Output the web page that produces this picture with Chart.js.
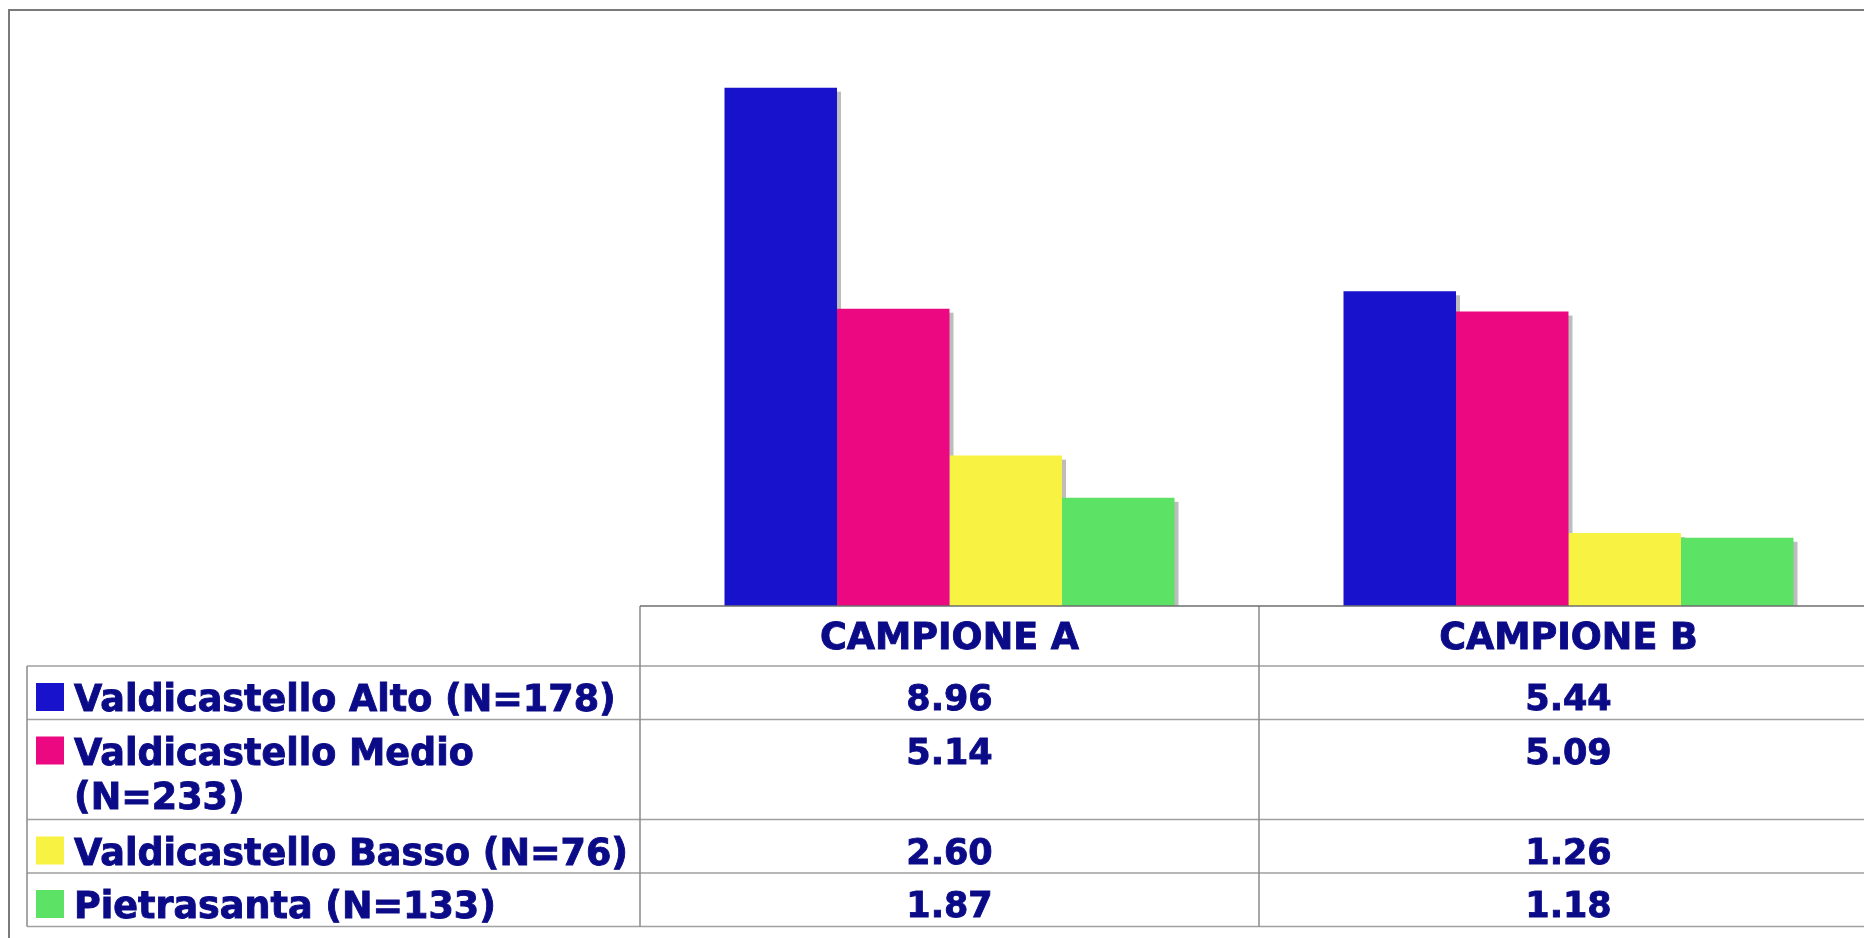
<!DOCTYPE html>
<html>
<head>
<meta charset="utf-8">
<script src="https://cdn.jsdelivr.net/npm/chart.js@4/dist/chart.umd.min.js"></script>
<style>
  html, body { margin: 0; padding: 0; background: #fff; overflow: hidden; }
  #wrap { width: 1900px; height: 938px; }
</style>
</head>
<body>
<div id="wrap"><canvas id="chart" width="1900" height="938"></canvas></div>
<script>
// data (table under the bars)
const categories = ['CAMPIONE A', 'CAMPIONE B'];
const seriesNames = [
  'Valdicastello Alto (N=178)',
  'Valdicastello Medio (N=233)',
  'Valdicastello Basso (N=76)',
  'Pietrasanta (N=133)'
];
const alto = [8.96, 5.44];
const medio = [5.14, 5.09];
const basso = [2.60, 1.26];
const pietrasanta = [1.87, 1.18];
const colors = ['#1812CC', '#EC0880', '#F8F242', '#5CE264'];

const TEXT = '#0b0b88';
const HEAD_FONT = 'bold 36.5px "DejaVu Sans", Verdana, sans-serif';
const VAL_FONT = 'bold 35px "DejaVu Sans", Verdana, sans-serif';
const LEGEND_FONT = 'bold 36.5px "DejaVu Sans", Verdana, sans-serif';

// shadow behind each bar, drawn before all bars so neighbours cover it
const barShadow = {
  id: 'barShadow',
  beforeDatasetsDraw(chart){
    const ctx = chart.ctx;
    ctx.save();
    ctx.fillStyle = '#bdbdbd';
    chart.data.datasets.forEach((ds, i) => {
      chart.getDatasetMeta(i).data.forEach(bar => {
        const p = bar.getProps(['x', 'y', 'base', 'width'], true);
        const left = p.x - p.width / 2 + 4;
        const top = p.y + 4;
        ctx.fillRect(left, top, p.width, p.base - top);
      });
    });
    ctx.restore();
  }
};

function wrapLines(ctx, text, maxW){
  const words = text.split(' ');
  const lines = [];
  let cur = '';
  for (const w of words) {
    const t = cur ? cur + ' ' + w : w;
    if (cur && ctx.measureText(t).width > maxW) { lines.push(cur); cur = w; }
    else cur = t;
  }
  if (cur) lines.push(cur);
  return lines;
}

// bold text, thickened a little to look like the heavier original face
function boldText(ctx, s, x, y){
  ctx.fillText(s, x, y);
  ctx.strokeText(s, x, y);
}

// data table under the plot, with legend keys in the first column
const dataTable = {
  id: 'dataTable',
  afterDraw(chart){
    const ctx = chart.ctx;
    const x = chart.scales.x;
    const area = chart.chartArea;
    const n = categories.length;
    const colW = (area.right - area.left) / n;
    const tableLeft = 27;
    const headTop = area.bottom;
    const headH = 60;

    ctx.save();
    // outer frame
    ctx.strokeStyle = '#7a7a7a';
    ctx.lineWidth = 2;
    ctx.strokeRect(9, 10, 3000, 3000);

    // rows
    ctx.font = LEGEND_FONT;
    const rows = [];
    let y = headTop + headH;
    chart.data.datasets.forEach(ds => {
      const lines = wrapLines(ctx, ds.label, area.left - 74 - 6);
      const h = 7 + 46.5 * lines.length;
      rows.push({ top: y, h, lines });
      y += h;
    });
    const tableBottom = y;

    // grid lines
    ctx.strokeStyle = '#a0a0a0';
    ctx.lineWidth = 1.5;
    ctx.beginPath();
    rows.forEach(r => { ctx.moveTo(tableLeft, r.top); ctx.lineTo(area.right, r.top); });
    ctx.moveTo(tableLeft, tableBottom); ctx.lineTo(area.right, tableBottom);
    ctx.stroke();
    ctx.strokeStyle = '#8a8a8a';
    ctx.beginPath();
    ctx.moveTo(tableLeft, rows[0].top); ctx.lineTo(tableLeft, tableBottom);
    for (let i = 0; i <= n; i++) {
      const cx = area.left + colW * i;
      ctx.moveTo(cx, headTop); ctx.lineTo(cx, tableBottom);
    }
    ctx.stroke();
    // axis line a bit darker
    ctx.strokeStyle = '#6e6e6e';
    ctx.beginPath();
    ctx.moveTo(area.left, headTop); ctx.lineTo(area.right, headTop);
    ctx.stroke();

    // header
    ctx.fillStyle = TEXT;
    ctx.strokeStyle = TEXT;
    ctx.lineWidth = 0.9;
    ctx.textAlign = 'center';
    ctx.textBaseline = 'alphabetic';
    ctx.font = HEAD_FONT;
    categories.forEach((c, i) => {
      boldText(ctx, c, x.getPixelForTick(i), headTop + 43);
    });

    // values and legend
    chart.data.datasets.forEach((ds, k) => {
      const r = rows[k];
      ctx.font = VAL_FONT;
      ctx.textAlign = 'center';
      ctx.fillStyle = TEXT;
      ds.data.forEach((v, i) => {
        boldText(ctx, v.toFixed(2), x.getPixelForTick(i), r.top + 44);
      });
      ctx.fillStyle = ds.backgroundColor;
      ctx.fillRect(36, r.top + 17, 28, 28);
      ctx.font = LEGEND_FONT;
      ctx.textAlign = 'left';
      ctx.fillStyle = TEXT;
      r.lines.forEach((ln, j) => {
        boldText(ctx, ln, 74, r.top + 45 + 44 * j);
      });
    });
    ctx.restore();
  }
};

const seriesValues = [alto, medio, basso, pietrasanta];

new Chart(document.getElementById('chart'), {
  type: 'bar',
  data: {
    labels: categories,
    datasets: seriesValues.map((vals, i) => ({
      label: seriesNames[i],
      data: vals,
      backgroundColor: colors[i],
      borderWidth: 0,
      barPercentage: 1,
      categoryPercentage: 0.727
    }))
  },
  options: {
    responsive: false,
    animation: false,
    devicePixelRatio: 1,
    layout: { padding: { left: 640, right: 22, top: 27.5, bottom: 332 } },
    plugins: { legend: { display: false }, tooltip: { enabled: false } },
    scales: {
      x: { display: false },
      y: { display: false, min: 0, max: 10 }
    }
  },
  plugins: [barShadow, dataTable]
});
</script>
</body>
</html>
